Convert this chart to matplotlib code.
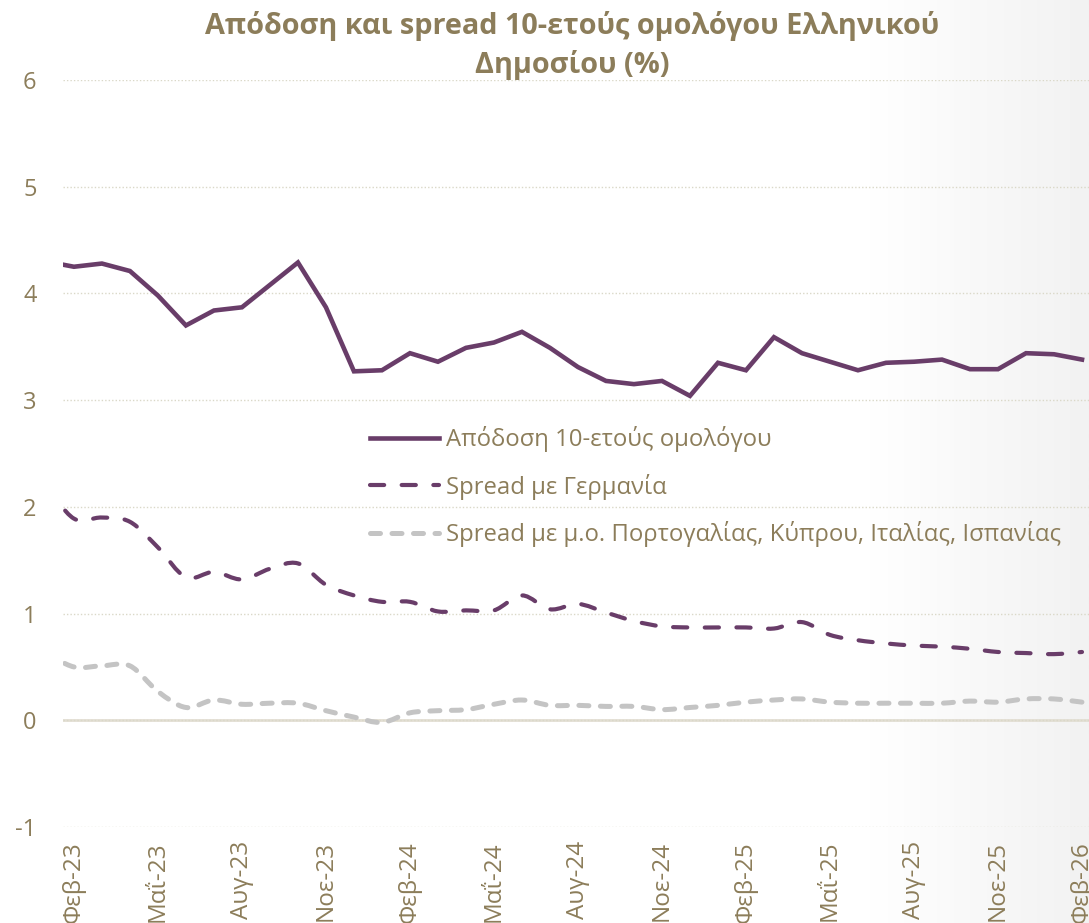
import numpy as np
import matplotlib
matplotlib.use("Agg")
import matplotlib.pyplot as plt
from matplotlib.path import Path
from matplotlib.patches import PathPatch
from matplotlib.lines import Line2D

plt.rcParams['font.family'] = ['Open Sans', 'DejaVu Sans']
plt.rcParams['axes.unicode_minus'] = False

# μήνες (Ιαν-23 ... Φεβ-26), ο πρώτος κόβεται από τον άξονα
month_names = ['Ιαν', 'Φεβ', 'Μαρ', 'Απρ', 'Μαΐ', 'Ιουν', 'Ιουλ', 'Αυγ', 'Σεπ', 'Οκτ', 'Νοε', 'Δεκ']
months = [f'{month_names[(m) % 12]}-{23 + m // 12}' for m in range(0, 38)]

yield_10y = [4.30, 4.25, 4.28, 4.21, 3.98, 3.70, 3.84, 3.87, 4.08, 4.29,
             3.87, 3.27, 3.28, 3.44, 3.36, 3.49, 3.54, 3.64, 3.49, 3.31,
             3.18, 3.15, 3.18, 3.04, 3.35, 3.28, 3.59, 3.44, 3.36, 3.28,
             3.35, 3.36, 3.38, 3.29, 3.29, 3.44, 3.43, 3.38]
spread_de = [2.20, 1.89, 1.90, 1.86, 1.62, 1.34, 1.39, 1.32, 1.42, 1.47,
             1.27, 1.17, 1.11, 1.11, 1.02, 1.03, 1.03, 1.17, 1.04, 1.09,
             1.01, 0.93, 0.88, 0.87, 0.87, 0.87, 0.86, 0.92, 0.80, 0.75,
             0.72, 0.70, 0.69, 0.67, 0.64, 0.63, 0.62, 0.64]
spread_periph = [0.63, 0.50, 0.51, 0.51, 0.27, 0.12, 0.19, 0.15, 0.16, 0.16,
                 0.09, 0.03, -0.02, 0.07, 0.09, 0.10, 0.15, 0.19, 0.14, 0.14,
                 0.13, 0.13, 0.10, 0.12, 0.14, 0.17, 0.19, 0.20, 0.17, 0.16,
                 0.16, 0.16, 0.16, 0.18, 0.17, 0.20, 0.20, 0.17]

labels = ['Απόδοση 10-ετούς ομολόγου', 'Spread με Γερμανία',
          'Spread με μ.ο. Πορτογαλίας, Κύπρου, Ιταλίας, Ισπανίας']
title = 'Απόδοση και spread 10-ετούς ομολόγου Ελληνικού\nΔημοσίου (%)'

purple = '#693D69'
grey = '#C4C4C4'
txt = '#8C7D5A'
dash_de = (0, (3.4, 4.2))
dash_pe = (0, (2.0, 2.3))


def smooth_path(x, y):
    # καμπύλες Bezier όπως το "smoothed line" του Excel
    pts = np.column_stack([x, y])
    ext = np.vstack([pts[0], pts, pts[-1]])
    verts = [pts[0]]
    codes = [Path.MOVETO]
    for i in range(len(pts) - 1):
        p0, p1, p2, p3 = ext[i], ext[i + 1], ext[i + 2], ext[i + 3]
        verts += [p1 + (p2 - p0) / 6, p2 - (p3 - p1) / 6, p2]
        codes += [Path.CURVE4] * 3
    return Path(verts, codes)


fig = plt.figure(figsize=(10.89, 9.23), dpi=100)

# απαλό γκρι gradient δεξιά
bg = fig.add_axes([0, 0, 1, 1], zorder=-5)
grad = np.clip((np.linspace(0, 1, 400) - 0.80) / 0.20, 0, 1)
bg.imshow(grad[None, :], aspect='auto',
          cmap=matplotlib.colors.LinearSegmentedColormap.from_list('g', ['#FFFFFF', '#F2F2F2']),
          extent=[0, 1, 0, 1], vmin=0, vmax=1)
bg.axis('off')

ax = fig.add_axes([63 / 1089, 96 / 923, 1026 / 1089, 747 / 923])
ax.patch.set_alpha(0)

x = np.arange(len(months)) - 1  # Φεβ-23 = 0

ax.plot(x, yield_10y, color=purple, lw=3.3, solid_joinstyle='miter', zorder=4)

p1 = PathPatch(smooth_path(x, spread_de), fill=False, edgecolor=purple, lw=3.0,
               linestyle=dash_de, capstyle='round', zorder=3)
p2 = PathPatch(smooth_path(x, spread_periph), fill=False, edgecolor=grey, lw=3.6,
               linestyle=dash_pe, capstyle='round', zorder=2)
ax.add_patch(p1)
ax.add_patch(p2)

ax.set_xlim(-0.39, 36.25)
ax.set_ylim(-1, 6)
ax.set_yticks(range(-1, 7))
ax.grid(axis='y', linestyle=(0, (1, 1.5)), color='#DAD8C8', lw=1.0)
ax.axhline(0, color='#E2DED3', lw=2, zorder=1)

tick_pos = x[1::3]
ax.set_xticks(tick_pos)
ax.set_xticklabels(months[1::3], rotation=90, va='top', ha='center')
ax.tick_params(axis='x', length=0, pad=10, labelsize=17.5, labelcolor=txt)
ax.tick_params(axis='y', length=0, pad=19, labelsize=17, labelcolor=txt)
for s in ax.spines.values():
    s.set_visible(False)

handles = [
    Line2D([], [], color=purple, lw=3.3),
    Line2D([], [], color=purple, lw=3.0, linestyle=dash_de, dash_capstyle='round'),
    Line2D([], [], color=grey, lw=3.6, linestyle=dash_pe, dash_capstyle='round'),
]
leg = ax.legend(handles, labels, loc='upper left', bbox_to_anchor=((370 - 63) / 1026, (843 - 442) / 747),
                frameon=False, fontsize=17.2, handlelength=2.9, handletextpad=0.3,
                labelspacing=0.9, borderaxespad=0, borderpad=0)
for t in leg.get_texts():
    t.set_color(txt)

fig.text(572 / 1089, 1 - 11 / 923, title, ha='center', va='top', fontsize=20.8,
         fontweight='bold', color=txt, linespacing=1.38)

fig.savefig('out.png', dpi=100)
